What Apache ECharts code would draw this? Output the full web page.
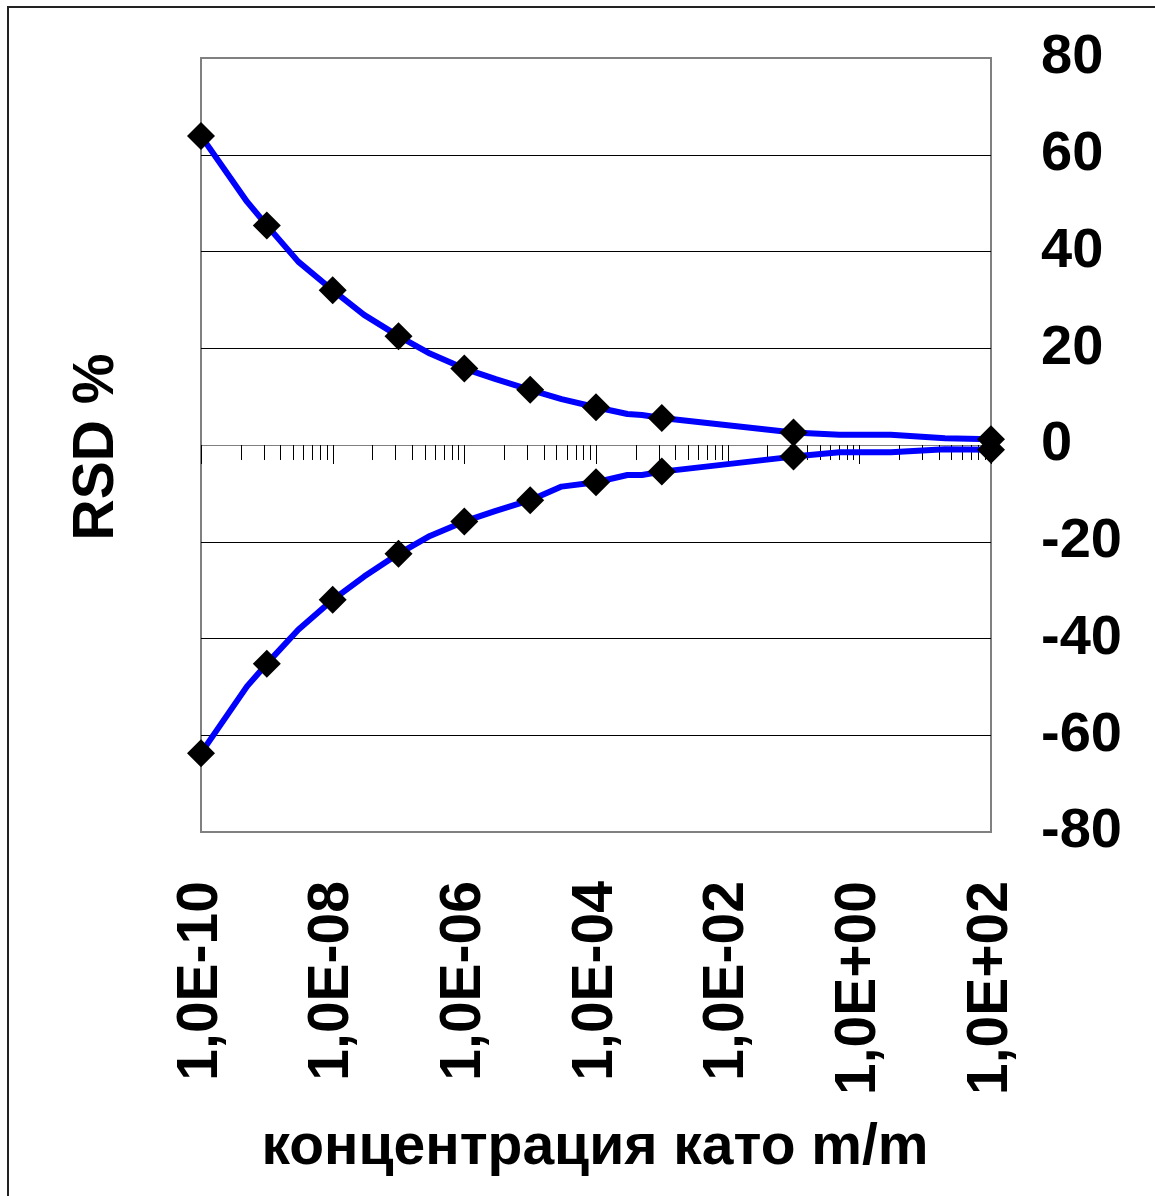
<!DOCTYPE html>
<html>
<head>
<meta charset="utf-8">
<script src="https://cdn.jsdelivr.net/npm/echarts@6/dist/echarts.min.js"></script>
<style>
html,body{margin:0;padding:0;background:#fff;}
#chart{width:1155px;height:1196px;}
</style>
</head>
<body>
<div id="chart"></div>
<script>
// ---- data ----
const upperConc = [1e-10, 5e-10, 1e-9, 3e-9, 1e-8, 3e-8, 1e-7, 3e-7, 1e-6, 3e-6, 1e-5, 3e-5, 1e-4, 3e-4, 5e-4, 1e-3, 1e-1, 0.5, 3, 20, 100];
const upperRsd  = [63.9, 50.3, 45.4, 37.9, 32.0, 26.9, 22.5, 18.9, 15.8, 13.6, 11.4, 9.5, 7.8, 6.4, 6.2, 5.6, 2.6, 2.1, 2.1, 1.4, 1.2];
const lowerConc = [1e-10, 5e-10, 1e-9, 3e-9, 1e-8, 3e-8, 1e-7, 3e-7, 1e-6, 3e-6, 1e-5, 3e-5, 1e-4, 3e-4, 5e-4, 1e-3, 1e-1, 0.5, 3, 20, 100];
const lowerRsd  = [-63.7, -49.9, -45.2, -38.2, -32.0, -27.2, -22.5, -18.8, -15.8, -13.6, -11.4, -8.6, -7.7, -6.2, -6.2, -5.5, -2.4, -1.5, -1.5, -0.9, -1.0];
const markerConc     = [1e-10, 1e-9, 1e-8, 1e-7, 1e-6, 1e-5, 1e-4, 1e-3, 1e-1, 100];
const markerUpperRsd = [63.9, 45.4, 32.0, 22.5, 15.8, 11.4, 7.8, 5.6, 2.6, 1.2];
const markerLowerRsd = [-63.7, -45.2, -32.0, -22.5, -15.8, -11.4, -7.7, -5.5, -2.4, -1.0];
const majorTicks = [1e-10, 1e-8, 1e-6, 1e-4, 1e-2, 1, 100];
const minorMultipliers = [4, 9, 16, 25, 36, 49, 64, 81];
const yTicks = [-80, -60, -40, -20, 0, 20, 40, 60, 80];
const xTitle = 'концентрация като m/m';
const yTitle = 'RSD %';

// ---- build ----
const FONT = '"Liberation Sans", Arial, sans-serif';
const tickData = [];
majorTicks.forEach(function (m, i) {
  tickData.push([m, 1]);
  if (i < majorTicks.length - 1) {
    minorMultipliers.forEach(function (k) { tickData.push([m * k, 0]); });
  }
});
function zip(a, b) { return a.map(function (v, i) { return [v, b[i]]; }); }
function fmtExp(v) {
  const e = Math.round(Math.log10(v));
  const a = Math.abs(e);
  return '1,0E' + (e < 0 ? '-' : '+') + (a < 10 ? '0' + a : '' + a);
}

const chart = echarts.init(document.getElementById('chart'), null, {renderer: 'canvas'});
chart.setOption({
  animation: false,
  backgroundColor: '#ffffff',
  grid: {left: 201, right: 164, top: 58, bottom: 364, show: true, borderColor: '#808080', borderWidth: 2, backgroundColor: 'transparent'},
  xAxis: {
    type: 'log', logBase: 10, min: 1e-10, max: 100, interval: 2,
    axisLine: {show: false}, axisTick: {show: false}, splitLine: {show: false}, minorTick: {show: false},
    axisLabel: {rotate: 90, margin: 49, fontSize: 57, fontWeight: 'bold', fontFamily: FONT, color: '#000',
      formatter: fmtExp}
  },
  yAxis: {
    type: 'value', position: 'right', min: yTicks[0], max: yTicks[yTicks.length - 1], interval: 20,
    axisLine: {show: false}, axisTick: {show: false},
    splitLine: {show: true, lineStyle: {width: 1, color: ['transparent', '#000', '#000', '#000', '#808080', '#000', '#000', '#000', 'transparent']}},
    axisLabel: {margin: 50, align: 'left', fontSize: 56, fontWeight: 'bold', fontFamily: FONT, color: '#000'}
  },
  graphic: [
    {type: 'rect', shape: {x: 8, y: 7, width: 1300, height: 1300}, style: {fill: 'none', stroke: '#222', lineWidth: 2}, silent: true, z: 100},
    {type: 'text', x: 97, y: 447, rotation: Math.PI / 2, style: {text: yTitle, font: 'bold 57px ' + FONT, fill: '#000', textAlign: 'center', textVerticalAlign: 'middle'}},
    {type: 'text', x: 595, y: 1148, style: {text: xTitle, font: 'bold 57px ' + FONT, fill: '#000', textAlign: 'center', textVerticalAlign: 'middle'}}
  ],
  series: [
    {
      type: 'custom', z: 1, silent: true,
      data: tickData,
      renderItem: function (params, api) {
        const p = api.coord([api.value(0), 0]);
        const len = api.value(1) ? 19 : 15;
        const x = Math.round(p[0]) + 0.5;
        return {type: 'line', shape: {x1: x, y1: p[1], x2: x, y2: p[1] + len}, style: {stroke: '#000', lineWidth: 1}};
      }
    },
    {type: 'line', z: 3, data: zip(upperConc, upperRsd), symbol: 'none', lineStyle: {color: '#0000ff', width: 6}},
    {type: 'line', z: 3, data: zip(lowerConc, lowerRsd), symbol: 'none', lineStyle: {color: '#0000ff', width: 6}},
    {type: 'scatter', z: 5, data: zip(markerConc, markerUpperRsd), symbol: 'diamond', symbolSize: 28, itemStyle: {color: '#000', opacity: 1}},
    {type: 'scatter', z: 5, data: zip(markerConc, markerLowerRsd), symbol: 'diamond', symbolSize: 28, itemStyle: {color: '#000', opacity: 1}}
  ]
});
</script>
</body>
</html>
